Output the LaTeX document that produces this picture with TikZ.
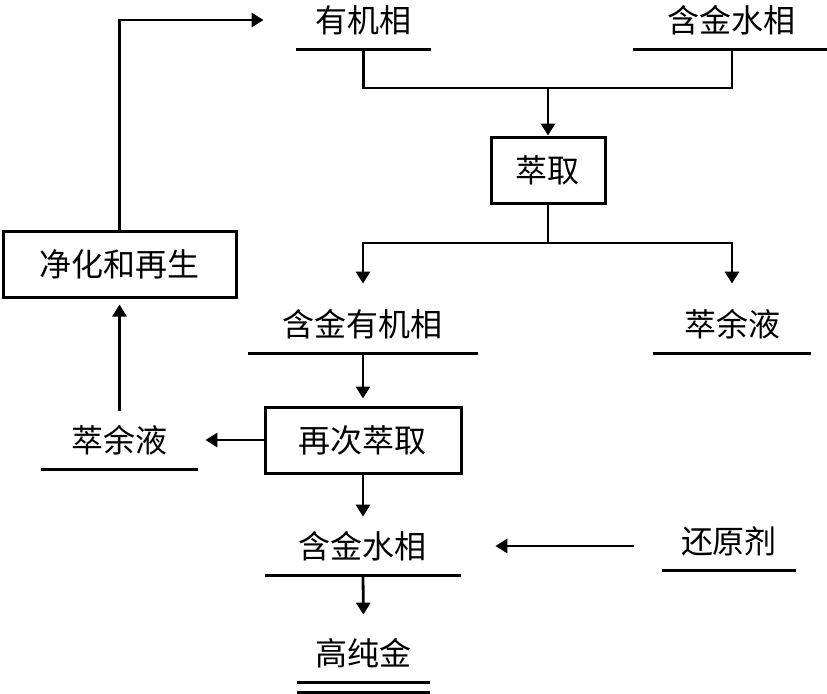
\documentclass[tikz,border=0pt]{standalone}
\usepackage{fontspec}
\newfontfamily\cjk{Noto Sans CJK SC}
\usetikzlibrary{arrows.meta}
\begin{document}
\begin{tikzpicture}[x=0.5pt,y=-0.5pt,line width=1.4pt,
  box/.style={draw,line width=1.5pt,minimum height=33pt,inner sep=0pt},
  lbl/.style={minimum width=#1,minimum height=28pt,inner sep=0pt},
  arr/.style={-{Triangle[length=6pt,width=7pt]}}]\cjk\fontsize{16pt}{18pt}\selectfont
\useasboundingbox (0,0) rectangle (827,693);
\node[box,minimum width=57pt] (cq) at (548,170) {萃取};
\node[box,minimum width=116.5pt] (jh) at (119.5,264) {净化和再生};
\node[box,minimum width=98pt] (zc) at (363,440) {再次萃取};
\node[lbl=66.5pt] (yj) at (363.5,20) {有机相};
\node[lbl=98pt] (sx1) at (732,20) {含金水相};
\node[lbl=113.5pt] (yjx) at (363,324) {含金有机相};
\node[lbl=78pt] (yy1) at (732,324) {萃余液};
\node[lbl=77.5pt] (yy2) at (119.5,440) {萃余液};
\node[lbl=97pt] (sx2) at (363,546) {含金水相};
\node[lbl=66pt] (hy) at (729,541) {还原剂};
\node[lbl=65.5pt] (cj) at (363.5,653) {高纯金};
\foreach \n in {yj,sx1,yjx,yy1,yy2,sx2,hy,cj} \draw (\n.south west) -- (\n.south east);
\draw ([yshift=-5pt]cj.south west) -- ([yshift=-5pt]cj.south east);
\coordinate (hb) at (548,88);
\coordinate (fz) at (548,243);
\draw (yj.south) |- (hb) -| (sx1.south);
\draw[arr] (hb) -- (cq);
\draw (cq) -- (fz);
\draw[arr,shorten >=5.5pt] (fz) -| (yjx.north);
\draw[arr,shorten >=5.5pt] (fz) -| (yy1.north);
\draw[arr,shorten >=3.5pt] (yjx.south) -- (zc.north);
\draw[arr,shorten >=3.5pt] (zc.west) -- (yy2.east);
\draw[arr,shorten >=3pt] (yy2.north) -- (jh.south);
\draw[arr,shorten >=16pt] (jh.north) |- (yj.west);
\draw[arr] (zc.south) -- (sx2.north);
\draw[arr,shorten <=14pt,shorten >=17pt] (hy.west |- sx2) -- (sx2.east);
\draw[arr,shorten >=4.5pt] (sx2.south) -- (cj.north);
\end{tikzpicture}
\end{document}
